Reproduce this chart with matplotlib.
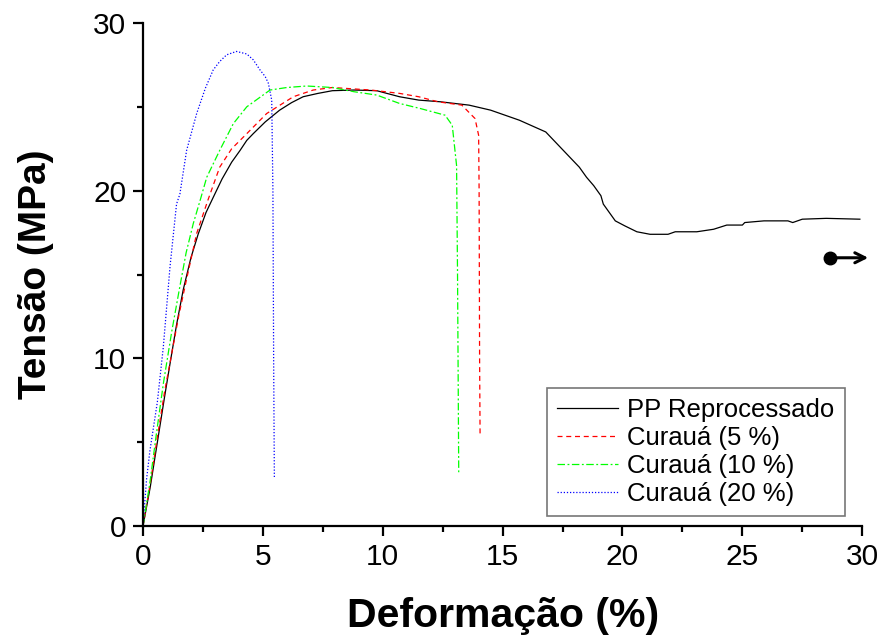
import matplotlib
matplotlib.use("Agg")
import matplotlib.pyplot as plt
from matplotlib.ticker import MultipleLocator

plt.rcParams['font.family'] = ['Liberation Sans', 'DejaVu Sans']

# PP Reprocessado
pp_x = [0, 0.3, 0.6, 0.9, 1.13, 1.4, 1.68, 2.0, 2.3, 2.63, 2.93, 3.3, 3.7, 4.05, 4.33, 4.6,
        5.1, 5.7, 6.2, 6.68, 7.3, 7.9, 8.8, 9.75, 10.7, 11.5, 12.4, 13.6, 14.5, 15.7, 16.8,
        17.4, 17.8, 18.2, 18.5, 18.8, 19.1, 19.2, 19.7, 20.1, 20.6, 21.15, 21.9, 22.2, 23.1,
        23.8, 24.35, 25.0, 25.1, 25.9, 26.9, 27.1, 27.5, 28.5, 29.9]
pp_y = [0, 2.3, 5.0, 7.7, 9.7, 12.0, 14.1, 16.0, 17.4, 18.7, 19.6, 20.7, 21.7, 22.4, 23.0, 23.4,
        24.1, 24.8, 25.25, 25.6, 25.8, 25.96, 26.0, 25.96, 25.6, 25.4, 25.3, 25.1, 24.8, 24.2, 23.5,
        22.6, 22.0, 21.4, 20.8, 20.3, 19.7, 19.2, 18.2, 17.9, 17.55, 17.4, 17.4, 17.55, 17.55,
        17.7, 17.95, 17.95, 18.1, 18.2, 18.2, 18.1, 18.3, 18.35, 18.3]

# Curauá 5 %
c5_x = [0, 0.3, 0.6, 0.9, 1.2, 1.5, 1.8, 2.24, 2.7, 3.2, 3.7, 4.33, 5.16, 6.27, 7.1, 7.9,
        9.5, 10.7, 11.5, 12.3, 13.3, 13.85, 14.0, 14.02, 14.04, 14.06]
c5_y = [0, 2.5, 5.3, 8.0, 10.3, 12.6, 14.6, 17.45, 19.4, 21.4, 22.5, 23.4, 24.6, 25.6, 26.0, 26.15,
        26.0, 25.8, 25.6, 25.3, 25.1, 24.3, 23.3, 20.0, 10.0, 5.5]

# Curauá 10 %
c10_x = [0, 0.29, 0.55, 0.85, 1.2, 1.54, 1.8, 2.1, 2.4, 2.66, 3.2, 3.77, 4.33, 5.3, 6.0, 6.83,
         7.9, 8.8, 9.75, 10.7, 11.56, 12.6, 12.9, 13.08, 13.12, 13.15, 13.17]
c10_y = [0, 2.6, 5.4, 8.5, 11.6, 14.3, 16.3, 18.05, 19.5, 20.8, 22.4, 24.0, 25.0, 26.0, 26.15, 26.24,
         26.15, 25.9, 25.7, 25.2, 24.9, 24.5, 23.9, 21.5, 15.0, 8.0, 3.14]

# Curauá 20 %
c20_x = [0, 0.15, 0.29, 0.45, 0.6, 0.85, 1.13, 1.4, 1.54, 1.82, 2.24, 2.6, 2.93, 3.2, 3.49, 3.9,
         4.33, 4.6, 4.88, 5.1, 5.23, 5.37, 5.42, 5.45, 5.48]
c20_y = [0, 2.8, 4.5, 6.0, 7.4, 10.7, 15.5, 19.2, 19.8, 22.4, 24.6, 26.1, 27.2, 27.7, 28.1, 28.3,
         28.15, 27.8, 27.2, 26.8, 26.4, 25.4, 20.0, 10.0, 2.84]

labels = ['PP Reprocessado', 'Curauá (5 %)', 'Curauá (10 %)', 'Curauá (20 %)']

fig = plt.figure(figsize=(8.88, 6.37), dpi=100)
ax = fig.add_axes([0.161, 0.174, 0.810, 0.790])

ax.plot(pp_x, pp_y, color='black', lw=0.9, label=labels[0])
ax.plot(c5_x, c5_y, color='#ff0000', lw=0.9, dashes=(4, 3), label=labels[1])
ax.plot(c10_x, c10_y, color='#00ff00', lw=0.9, dashes=(6, 2, 1.5, 2), label=labels[2])
ax.plot(c20_x, c20_y, color='#0000ff', lw=0.9, dashes=(1, 1.5), label=labels[3])

# marker with arrow pointing to the right axis
ax.plot([28.66], [16.0], 'o', color='black', ms=9, clip_on=False)
ax.annotate('', xy=(30.25, 16.0), xytext=(28.66, 16.0),
            arrowprops=dict(arrowstyle='->', lw=2.2, color='black', mutation_scale=18,
                            shrinkA=0, shrinkB=0),
            annotation_clip=False)

ax.set_xlim(0, 30)
ax.set_ylim(0, 30)
ax.xaxis.set_major_locator(MultipleLocator(5))
ax.xaxis.set_minor_locator(MultipleLocator(2.5))
ax.yaxis.set_major_locator(MultipleLocator(10))
ax.yaxis.set_minor_locator(MultipleLocator(5))

for s in ['top', 'right']:
    ax.spines[s].set_visible(False)
for s in ['left', 'bottom']:
    ax.spines[s].set_linewidth(1.6)

ax.tick_params(which='major', direction='out', length=7, width=1.6, labelsize=21.5, pad=5)
ax.tick_params(which='minor', direction='out', length=4, width=1.6)

ax.set_xlabel('Deformação (%)', fontsize=29.5, fontweight='bold', labelpad=19)
ax.set_ylabel('Tensão (MPa)', fontsize=28, fontweight='bold', labelpad=28)

leg = ax.legend(loc='lower right', bbox_to_anchor=(0.976, 0.02), borderaxespad=0,
                fontsize=18.5, frameon=True, fancybox=False, handlelength=2.4,
                labelspacing=0.15, borderpad=0.4, handletextpad=0.35)
leg.get_frame().set_edgecolor('#555555')
leg.get_frame().set_linewidth(1.2)

fig.savefig('out.png', dpi=100)
